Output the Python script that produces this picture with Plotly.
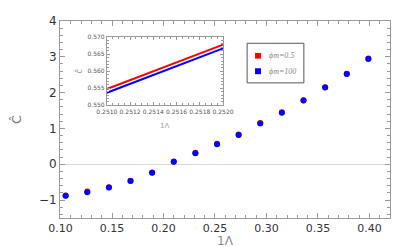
import plotly.graph_objects as go

# Main data
inv_lambda = [0.105, 0.126, 0.147, 0.168, 0.189, 0.210, 0.231, 0.252,
              0.273, 0.294, 0.315, 0.336, 0.357, 0.378, 0.399]
c_phi_05 = [-0.87, -0.76, -0.64, -0.46, -0.23, 0.08, 0.32, 0.57,
            0.83, 1.15, 1.45, 1.79, 2.15, 2.53, 2.95]
c_phi_100 = [-0.88, -0.78, -0.65, -0.47, -0.24, 0.07, 0.31, 0.56,
             0.82, 1.14, 1.44, 1.78, 2.14, 2.52, 2.94]

# Inset data
inset_x = [0.2510, 0.2520]
inset_phi_05 = [0.5548, 0.5678]
inset_phi_100 = [0.5537, 0.5667]

legend_names = ["ϕm=0.5", "ϕm=100"]
RED = "#ff0000"
BLUE = "#0000ff"
FRAME = "#9a9a9a"
TXT = "#333333"

fig = go.Figure()

fig.add_trace(go.Scatter(x=inv_lambda, y=c_phi_05, mode="markers", name=legend_names[0],
                         marker=dict(color=RED, size=6), showlegend=False))
fig.add_trace(go.Scatter(x=inv_lambda, y=c_phi_100, mode="markers", name=legend_names[1],
                         marker=dict(color=BLUE, size=6), showlegend=False))

# inset
fig.add_trace(go.Scatter(x=inset_x, y=inset_phi_05, mode="lines",
                         line=dict(color=RED, width=2), xaxis="x2", yaxis="y2",
                         showlegend=False))
fig.add_trace(go.Scatter(x=inset_x, y=inset_phi_100, mode="lines",
                         line=dict(color=BLUE, width=2), xaxis="x2", yaxis="y2",
                         showlegend=False))

# Hand-drawn legend box (paper coordinates)
shapes = [
    dict(type="rect", xref="paper", yref="paper", x0=0.567, x1=0.739, y0=0.686, y1=0.887,
         line=dict(color="#555555", width=1), fillcolor="white", layer="above"),
    dict(type="rect", xref="paper", yref="paper", x0=0.591, x1=0.609, y0=0.809, y1=0.838,
         line=dict(width=0), fillcolor=RED, layer="above"),
    dict(type="rect", xref="paper", yref="paper", x0=0.591, x1=0.609, y0=0.730, y1=0.760,
         line=dict(width=0), fillcolor=BLUE, layer="above"),
]
legend_font = dict(size=8, color="#888888", family="Liberation Serif", style="italic")

fig.update_layout(
    width=399, height=247,
    margin=dict(l=52, r=17, t=6, b=37),
    plot_bgcolor="white", paper_bgcolor="white",
    font=dict(family="DejaVu Sans", size=11, color=TXT),
    showlegend=False,
    shapes=shapes,
    xaxis=dict(range=[0.0995, 0.42], tickvals=[0.10, 0.15, 0.20, 0.25, 0.30, 0.35, 0.40],
               ticktext=["0.10", "0.15", "0.20", "0.25", "0.30", "0.35", "0.40"],
               showgrid=False, zeroline=False, showline=True, linecolor=FRAME, linewidth=1,
               mirror="allticks", ticks="inside", ticklen=5, tickcolor=FRAME,
               minor=dict(dtick=0.01, ticks="inside", ticklen=3, tickcolor=FRAME, showgrid=False),
               tickfont=dict(size=11, color=TXT)),
    yaxis=dict(range=[-1.5, 4], tickvals=[-1, 0, 1, 2, 3, 4],
               showgrid=False, zeroline=True, zerolinecolor="#d8d8d8", zerolinewidth=1,
               showline=True, linecolor=FRAME, linewidth=1,
               mirror="allticks", ticks="inside", ticklen=5, tickcolor=FRAME,
               minor=dict(dtick=0.2, ticks="inside", ticklen=3, tickcolor=FRAME, showgrid=False),
               title=dict(text="Ĉ", font=dict(size=13, color="#777777"), standoff=14),
               tickfont=dict(size=12, color=TXT)),
    xaxis2=dict(domain=[0.142, 0.494], anchor="y2", range=[0.2510, 0.2520],
                tickvals=[0.2510, 0.2512, 0.2514, 0.2516, 0.2518, 0.2520],
                ticktext=["0.2510", "0.2512", "0.2514", "0.2516", "0.2518", "0.2520"],
                tickangle=0,
                showgrid=False, zeroline=False, showline=True, linecolor=FRAME, linewidth=1,
                mirror="allticks", ticks="inside", ticklen=3, tickcolor=FRAME,
                minor=dict(nticks=5, ticks="inside", ticklen=2, tickcolor=FRAME),
                tickfont=dict(size=6, color="#555555")),
    yaxis2=dict(domain=[0.572, 0.918], anchor="x2", range=[0.550, 0.570],
                tickvals=[0.550, 0.555, 0.560, 0.565, 0.570],
                ticktext=["0.550", "0.555", "0.560", "0.565", "0.570"],
                showgrid=False, zeroline=False, showline=True, linecolor=FRAME, linewidth=1,
                mirror="allticks", ticks="inside", ticklen=3, tickcolor=FRAME,
                minor=dict(nticks=5, ticks="inside", ticklen=2, tickcolor=FRAME),
                tickfont=dict(size=6, color="#555555"),
                title=dict(text="ĉ", font=dict(size=8, color="#999999"), standoff=3)),
    annotations=[
        dict(text="1Λ", xref="paper", yref="paper", x=0.5, y=-0.115,
             xanchor="center", yanchor="middle", showarrow=False,
             font=dict(size=12, color="#888888")),
        dict(text="1Λ", xref="x2 domain", yref="y2 domain", x=0.5, y=-0.3,
             xanchor="center", yanchor="middle", showarrow=False,
             font=dict(size=7, color="#999999")),
        dict(text=legend_names[0], xref="paper", yref="paper", x=0.627, y=0.824,
             xanchor="left", yanchor="middle", showarrow=False, font=legend_font),
        dict(text=legend_names[1], xref="paper", yref="paper", x=0.627, y=0.745,
             xanchor="left", yanchor="middle", showarrow=False, font=legend_font),
    ],
)

fig.write_html("out.html")
